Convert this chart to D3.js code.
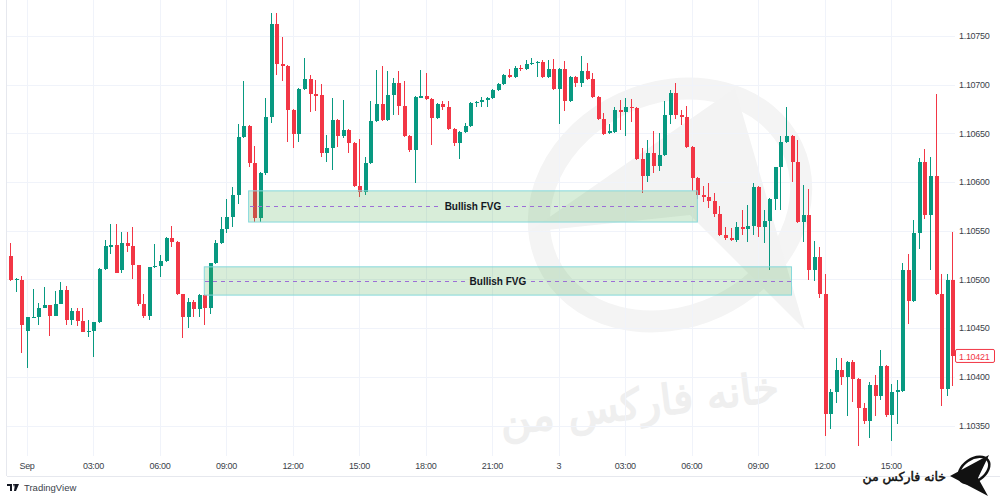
<!DOCTYPE html>
<html><head><meta charset="utf-8">
<script src="https://cdn.jsdelivr.net/npm/d3@7"></script>
<style>body{margin:0;background:#fff}svg{display:block}</style>
</head><body><svg id="c" width="1000" height="500"></svg>
<script>
// 15-minute EURUSD candles, first candle 2024-09-01 23:15 UTC
const firstCandle = "2024-09-01T23:15:00Z";
const opens = [1.10524,1.10500,1.10500,1.10447,1.10460,1.10461,1.10471,1.10474,1.10463,1.10475,1.10489,1.10458,1.10468,1.10457,1.10446,1.10447,1.10456,1.10511,1.10534,1.10535,1.10510,1.10537,1.10534,1.10515,1.10475,1.10463,1.10513,1.10514,1.10519,1.10543,1.10539,1.10485,1.10461,1.10477,1.10470,1.10484,1.10471,1.10517,1.10537,1.10552,1.10564,1.10587,1.10646,1.10658,1.10620,1.10563,1.10609,1.10667,1.10762,1.10721,1.10719,1.10674,1.10649,1.10696,1.10706,1.10690,1.10689,1.10630,1.10635,1.10664,1.10647,1.10654,1.10640,1.10596,1.10590,1.10620,1.10663,1.10680,1.10664,1.10689,1.10702,1.10678,1.10647,1.10633,1.10687,1.10688,1.10685,1.10666,1.10680,1.10677,1.10655,1.10640,1.10651,1.10658,1.10681,1.10682,1.10684,1.10686,1.10695,1.10701,1.10710,1.10708,1.10717,1.10716,1.10721,1.10722,1.10723,1.10708,1.10716,1.10696,1.10716,1.10683,1.10708,1.10702,1.10714,1.10706,1.10687,1.10665,1.10650,1.10651,1.10674,1.10672,1.10677,1.10676,1.10624,1.10606,1.10630,1.10617,1.10628,1.10669,1.10691,1.10669,1.10667,1.10636,1.10604,1.10587,1.10585,1.10581,1.10567,1.10546,1.10543,1.10541,1.10554,1.10552,1.10555,1.10595,1.10554,1.10560,1.10583,1.10615,1.10641,1.10647,1.10621,1.10559,1.10566,1.10510,1.10523,1.10485,1.10362,1.10385,1.10407,1.10400,1.10415,1.10398,1.10368,1.10355,1.10392,1.10380,1.10411,1.10361,1.10384,1.10386,1.10510,1.10478,1.10548,1.10621,1.10566,1.10606,1.10485,1.10388,1.10499];
const highs = [1.10537,1.10502,1.10504,1.10462,1.10490,1.10476,1.10492,1.10474,1.10488,1.10497,1.10493,1.10471,1.10471,1.10471,1.10458,1.10456,1.10512,1.10541,1.10557,1.10557,1.10549,1.10549,1.10554,1.10515,1.10485,1.10513,1.10536,1.10525,1.10544,1.10555,1.10540,1.10485,1.10481,1.10479,1.10485,1.10485,1.10517,1.10541,1.10564,1.10583,1.10595,1.10660,1.10704,1.10659,1.10637,1.10610,1.10686,1.10774,1.10774,1.10749,1.10720,1.10675,1.10697,1.10727,1.10710,1.10705,1.10701,1.10648,1.10686,1.10665,1.10684,1.10655,1.10641,1.10644,1.10626,1.10683,1.10715,1.10719,1.10714,1.10707,1.10714,1.10704,1.10648,1.10688,1.10715,1.10712,1.10686,1.10681,1.10683,1.10683,1.10656,1.10652,1.10661,1.10682,1.10683,1.10687,1.10687,1.10696,1.10702,1.10711,1.10716,1.10719,1.10720,1.10725,1.10727,1.10724,1.10725,1.10725,1.10726,1.10717,1.10724,1.10709,1.10709,1.10729,1.10722,1.10712,1.10688,1.10671,1.10660,1.10677,1.10684,1.10686,1.10685,1.10677,1.10635,1.10643,1.10652,1.10650,1.10683,1.10695,1.10702,1.10674,1.10678,1.10637,1.10605,1.10596,1.10599,1.10589,1.10575,1.10554,1.10553,1.10559,1.10571,1.10576,1.10599,1.10596,1.10571,1.10584,1.10616,1.10647,1.10677,1.10648,1.10643,1.10597,1.10593,1.10540,1.10533,1.10506,1.10388,1.10419,1.10419,1.10416,1.10417,1.10399,1.10373,1.10395,1.10402,1.10428,1.10412,1.10393,1.10397,1.10517,1.10526,1.10561,1.10625,1.10634,1.10626,1.10690,1.10506,1.10506,1.10549];
const lows = [1.10498,1.10487,1.10425,1.10409,1.10460,1.10453,1.10471,1.10442,1.10463,1.10475,1.10453,1.10453,1.10452,1.10446,1.10441,1.10420,1.10455,1.10510,1.10526,1.10507,1.10507,1.10528,1.10501,1.10473,1.10460,1.10458,1.10512,1.10503,1.10518,1.10533,1.10484,1.10440,1.10450,1.10462,1.10462,1.10453,1.10465,1.10516,1.10536,1.10548,1.10554,1.10578,1.10645,1.10615,1.10559,1.10559,1.10607,1.10661,1.10710,1.10704,1.10641,1.10635,1.10641,1.10695,1.10672,1.10673,1.10626,1.10621,1.10612,1.10636,1.10645,1.10630,1.10595,1.10585,1.10587,1.10619,1.10662,1.10663,1.10663,1.10669,1.10669,1.10646,1.10631,1.10599,1.10686,1.10684,1.10638,1.10665,1.10674,1.10654,1.10637,1.10624,1.10650,1.10657,1.10677,1.10677,1.10677,1.10685,1.10694,1.10700,1.10707,1.10707,1.10714,1.10715,1.10720,1.10708,1.10707,1.10707,1.10695,1.10660,1.10673,1.10682,1.10698,1.10698,1.10705,1.10686,1.10664,1.10648,1.10649,1.10650,1.10653,1.10647,1.10662,1.10623,1.10589,1.10600,1.10609,1.10611,1.10627,1.10660,1.10665,1.10659,1.10635,1.10591,1.10583,1.10580,1.10573,1.10564,1.10545,1.10541,1.10540,1.10539,1.10546,1.10539,1.10546,1.10544,1.10537,1.10510,1.10571,1.10571,1.10640,1.10600,1.10558,1.10539,1.10499,1.10498,1.10481,1.10339,1.10346,1.10373,1.10392,1.10360,1.10374,1.10329,1.10352,1.10337,1.10360,1.10376,1.10359,1.10334,1.10352,1.10385,1.10454,1.10477,1.10531,1.10562,1.10510,1.10484,1.10370,1.10380,1.10391];
const closes = [1.10500,1.10501,1.10453,1.10461,1.10462,1.10471,1.10474,1.10463,1.10475,1.10489,1.10458,1.10468,1.10457,1.10446,1.10447,1.10456,1.10511,1.10534,1.10535,1.10507,1.10537,1.10534,1.10515,1.10475,1.10463,1.10513,1.10514,1.10519,1.10543,1.10539,1.10485,1.10461,1.10477,1.10470,1.10484,1.10471,1.10517,1.10537,1.10552,1.10564,1.10587,1.10646,1.10658,1.10620,1.10563,1.10609,1.10667,1.10762,1.10721,1.10719,1.10674,1.10649,1.10696,1.10706,1.10690,1.10689,1.10630,1.10635,1.10664,1.10647,1.10654,1.10640,1.10596,1.10590,1.10620,1.10663,1.10680,1.10664,1.10689,1.10702,1.10678,1.10647,1.10633,1.10687,1.10688,1.10685,1.10666,1.10680,1.10677,1.10655,1.10640,1.10651,1.10658,1.10681,1.10682,1.10684,1.10686,1.10695,1.10701,1.10710,1.10708,1.10717,1.10716,1.10721,1.10722,1.10723,1.10708,1.10716,1.10696,1.10716,1.10683,1.10708,1.10702,1.10714,1.10706,1.10687,1.10665,1.10649,1.10652,1.10674,1.10672,1.10677,1.10676,1.10624,1.10606,1.10630,1.10617,1.10628,1.10669,1.10691,1.10669,1.10667,1.10636,1.10604,1.10587,1.10585,1.10581,1.10567,1.10546,1.10543,1.10541,1.10554,1.10552,1.10555,1.10595,1.10554,1.10560,1.10583,1.10615,1.10641,1.10647,1.10621,1.10559,1.10566,1.10510,1.10523,1.10485,1.10362,1.10385,1.10407,1.10400,1.10415,1.10398,1.10368,1.10355,1.10392,1.10380,1.10411,1.10361,1.10384,1.10387,1.10510,1.10478,1.10548,1.10621,1.10566,1.10606,1.10485,1.10388,1.10499,1.10421];

const tickTimes = ["2024-09-02T00:00:00Z","2024-09-02T03:00:00Z","2024-09-02T06:00:00Z","2024-09-02T09:00:00Z","2024-09-02T12:00:00Z","2024-09-02T15:00:00Z","2024-09-02T18:00:00Z","2024-09-02T21:00:00Z","2024-09-03T00:00:00Z","2024-09-03T03:00:00Z","2024-09-03T06:00:00Z","2024-09-03T09:00:00Z","2024-09-03T12:00:00Z","2024-09-03T15:00:00Z"];
const tickLabels = ["Sep","03:00","06:00","09:00","12:00","15:00","18:00","21:00","3","03:00","06:00","09:00","12:00","15:00"];
const priceTicks = [1.1035,1.1040,1.1045,1.1050,1.1055,1.1060,1.1065,1.1070,1.1075];

const fvgFrom = ["2024-09-02T10:00:00Z","2024-09-02T08:00:00Z"];
const fvgTo = ["2024-09-03T06:15:00Z","2024-09-03T10:30:00Z"];
const fvgTop = [1.10591,1.10513];
const fvgBottom = [1.10559,1.10484];
const fvgLabels = ["Bullish FVG","Bullish FVG"];
const lastPrice = "1.10421";
const brand = "خانه فارکس من";

const svg = d3.select("#c");
const UP = "#089981", DOWN = "#F23645";
const t0 = new Date(firstCandle).getTime();
const step = 15*60*1000;
const candles = opens.map((o,i)=>({t:new Date(t0+i*step),o,h:highs[i],l:lows[i],c:closes[i]}));
const n = candles.length;
const px0 = 27 - 3*5.54, px1 = px0 + (n-1)*5.54;
const x = d3.scaleTime().domain([candles[0].t, candles[n-1].t]).range([px0, px1]);
const y = d3.scaleLinear().domain([1.1035, 1.1075]).range([425.6, 36]);
const plotL = 7, plotR = 955, plotB = 456;

// faint watermark
const wm = svg.append("g");
wm.append("ellipse").attr("cx",670).attr("cy",205).attr("rx",135).attr("ry",112)
  .attr("transform","rotate(-25,670,205)").attr("fill","none").attr("stroke","#f4f4f4").attr("stroke-width",22);
wm.append("path").attr("d","M528,232 L735,88 L805,330 L690,215 Z").attr("fill","#f3f3f3");
wm.append("text").attr("x",640).attr("y",418).attr("text-anchor","middle")
  .attr("transform","rotate(-7,640,410)")
  .attr("font-family","DejaVu Sans").attr("font-size",42)
  .attr("fill","#efefef").attr("stroke","#efefef").attr("stroke-width",1.5).text(brand);

// grid
svg.append("g").selectAll("line").data(priceTicks).join("line")
  .attr("x1",plotL).attr("x2",plotR).attr("y1",d=>Math.round(y(d))+0.5).attr("y2",d=>Math.round(y(d))+0.5)
  .attr("stroke","#f0f3fa");
svg.append("g").selectAll("line").data(tickTimes).join("line")
  .attr("x1",d=>Math.round(x(new Date(d)))+0.5).attr("x2",d=>Math.round(x(new Date(d)))+0.5)
  .attr("y1",0).attr("y2",plotB).attr("stroke","#f0f3fa");

// frame
svg.append("line").attr("x1",plotL-0.5).attr("x2",plotL-0.5).attr("y1",0).attr("y2",476).attr("stroke","#e6e8ee");
svg.append("line").attr("x1",plotL).attr("x2",1000).attr("y1",476.5).attr("y2",476.5).attr("stroke","#e6e8ee");

// candles
const cg = svg.append("g").attr("shape-rendering","crispEdges");
cg.selectAll("line").data(candles).join("line")
  .attr("x1",d=>Math.round(x(d.t))+0.5).attr("x2",d=>Math.round(x(d.t))+0.5)
  .attr("y1",d=>y(Math.max(d.h,d.o,d.c))).attr("y2",d=>y(Math.min(d.l,d.o,d.c)))
  .attr("stroke",d=>d.c>=d.o?UP:DOWN).attr("stroke-width",1);
cg.selectAll("rect").data(candles).join("rect")
  .attr("x",d=>Math.round(x(d.t))-1.5).attr("width",4)
  .attr("y",d=>y(Math.max(d.o,d.c)))
  .attr("height",d=>Math.max(1.2, y(Math.min(d.o,d.c))-y(Math.max(d.o,d.c))))
  .attr("fill",d=>d.c>=d.o?UP:DOWN);

// FVG boxes
const boxes = fvgFrom.map((f,i)=>({x0:x(new Date(f)),x1:x(new Date(fvgTo[i])),top:fvgTop[i],bot:fvgBottom[i],label:fvgLabels[i]}));
const bg = svg.append("g");
boxes.forEach(b=>{
  bg.append("rect").attr("x",b.x0).attr("y",y(b.top)).attr("width",b.x1-b.x0).attr("height",y(b.bot)-y(b.top))
    .attr("fill","rgba(76,175,80,0.22)").attr("stroke","#86d9dc").attr("stroke-width",1);
  const ym = Math.round(y((b.top+b.bot)/2)), xm = (b.x0+b.x1)/2;
  const txt = bg.append("text").attr("x",xm).attr("y",ym+3.5).attr("text-anchor","middle")
    .attr("font-family","Liberation Sans, Arial, sans-serif").attr("font-weight","bold").attr("font-size",10)
    .attr("fill","#131722").text(b.label);
  const w = txt.node().getComputedTextLength();
  [[b.x0+1, xm-w/2-5],[xm+w/2+5, b.x1-1]].forEach(([a,c])=>{
    bg.append("line").attr("x1",a).attr("x2",c).attr("y1",ym+0.5).attr("y2",ym+0.5)
      .attr("shape-rendering","crispEdges")
      .attr("stroke","#9c6fd6").attr("stroke-dasharray","4,4").attr("stroke-width",1);
  });
});

// axes labels
svg.append("g").selectAll("text").data(priceTicks).join("text")
  .attr("x",959).attr("y",d=>y(d)+3.2)
  .attr("font-family","Liberation Sans, Arial, sans-serif").attr("font-size",9).attr("letter-spacing","-0.3")
  .attr("fill","#3b3f4a").text(d=>d.toFixed(5));
svg.append("g").selectAll("text").data(tickTimes).join("text")
  .attr("x",d=>x(new Date(d))).attr("y",469).attr("text-anchor","middle")
  .attr("font-family","Liberation Sans, Arial, sans-serif").attr("font-size",9).attr("letter-spacing","-0.3")
  .attr("fill","#3b3f4a").text((d,i)=>tickLabels[i]);

// last price label
const lp = +lastPrice;
svg.append("rect").attr("x",955.5).attr("y",y(lp)-7).attr("width",39).attr("height",13)
  .attr("fill","#fff").attr("stroke",DOWN).attr("rx",1.5);
svg.append("text").attr("x",959).attr("y",y(lp)+3.2)
  .attr("font-family","Liberation Sans, Arial, sans-serif").attr("font-size",9).attr("letter-spacing","-0.3")
  .attr("fill",DOWN).text(lastPrice);

// TradingView footer
const tv = svg.append("g");
tv.append("path").attr("d","M7,484 h5 v7 h-2 v-5 h-3 Z M13,484 h2 l-1,3 Z M15,484 h4 l-3,7 h-2 Z").attr("fill","#131722");
tv.append("text").attr("x",24).attr("y",491).attr("font-family","Liberation Sans, Arial, sans-serif")
  .attr("font-size",9.5).attr("fill","#3b3f4a").text("TradingView");

// brand logo bottom right
const lg = svg.append("g");
lg.append("ellipse").attr("cx",974).attr("cy",470).attr("rx",17).attr("ry",11)
  .attr("transform","rotate(-35,974,470)").attr("fill","none").attr("stroke","#111").attr("stroke-width",2.5);
lg.append("path").attr("d","M950,476 L989,455 L978,478 L988,496 Z").attr("fill","#111");
lg.append("text").attr("x",946).attr("y",481).attr("text-anchor","end")
  .attr("font-family","DejaVu Sans").attr("font-size",12.5)
  .attr("fill","#111").attr("stroke","#111").attr("stroke-width",0.5).text(brand);
</script></body></html>
